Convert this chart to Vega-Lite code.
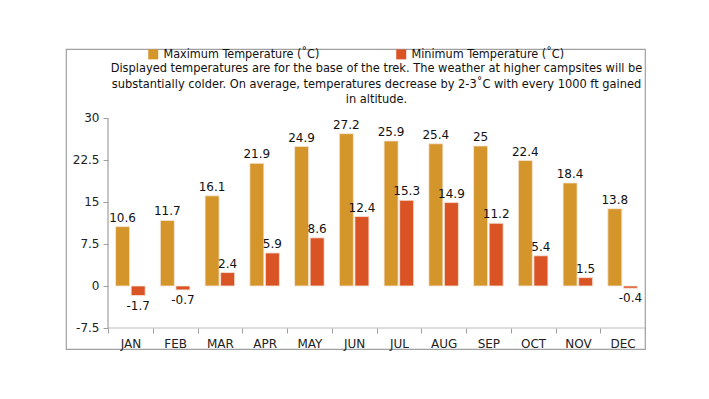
{
  "$schema": "https://vega.github.io/schema/vega-lite/v6.json",
  "width": 579,
  "height": 300,
  "autosize": {"type": "none"},
  "padding": {"left": 66, "top": 49, "right": 64, "bottom": 50},
  "background": "white",
  "config": {
    "view": {"stroke": "#a0a0a0", "strokeWidth": 1.2},
    "font": "DejaVu Sans"
  },
  "title": {
    "text": [
      "Displayed temperatures are for the base of the trek. The weather at higher campsites will be",
      "substantially colder. On average, temperatures decrease by 2-3˚C with every 1000 ft gained",
      "in altitude."
    ],
    "frame": "group",
    "anchor": "middle",
    "orient": "top",
    "offset": -58,
    "dx": 21,
    "font": "DejaVu Sans Condensed",
    "fontSize": 12.7,
    "fontWeight": "normal",
    "color": "#111111",
    "lineHeight": 15.5
  },
  "data": {
    "values": [
      {"month": "JAN", "type": "Maximum Temperature (˚C)", "temp": 10.6},
      {"month": "JAN", "type": "Minimum Temperature (˚C)", "temp": -1.7},
      {"month": "FEB", "type": "Maximum Temperature (˚C)", "temp": 11.7},
      {"month": "FEB", "type": "Minimum Temperature (˚C)", "temp": -0.7},
      {"month": "MAR", "type": "Maximum Temperature (˚C)", "temp": 16.1},
      {"month": "MAR", "type": "Minimum Temperature (˚C)", "temp": 2.4},
      {"month": "APR", "type": "Maximum Temperature (˚C)", "temp": 21.9},
      {"month": "APR", "type": "Minimum Temperature (˚C)", "temp": 5.9},
      {"month": "MAY", "type": "Maximum Temperature (˚C)", "temp": 24.9},
      {"month": "MAY", "type": "Minimum Temperature (˚C)", "temp": 8.6},
      {"month": "JUN", "type": "Maximum Temperature (˚C)", "temp": 27.2},
      {"month": "JUN", "type": "Minimum Temperature (˚C)", "temp": 12.4},
      {"month": "JUL", "type": "Maximum Temperature (˚C)", "temp": 25.9},
      {"month": "JUL", "type": "Minimum Temperature (˚C)", "temp": 15.3},
      {"month": "AUG", "type": "Maximum Temperature (˚C)", "temp": 25.4},
      {"month": "AUG", "type": "Minimum Temperature (˚C)", "temp": 14.9},
      {"month": "SEP", "type": "Maximum Temperature (˚C)", "temp": 25},
      {"month": "SEP", "type": "Minimum Temperature (˚C)", "temp": 11.2},
      {"month": "OCT", "type": "Maximum Temperature (˚C)", "temp": 22.4},
      {"month": "OCT", "type": "Minimum Temperature (˚C)", "temp": 5.4},
      {"month": "NOV", "type": "Maximum Temperature (˚C)", "temp": 18.4},
      {"month": "NOV", "type": "Minimum Temperature (˚C)", "temp": 1.5},
      {"month": "DEC", "type": "Maximum Temperature (˚C)", "temp": 13.8},
      {"month": "DEC", "type": "Minimum Temperature (˚C)", "temp": -0.4}
    ]
  },
  "encoding": {
    "x": {
      "field": "month",
      "type": "nominal",
      "sort": ["JAN", "FEB", "MAR", "APR", "MAY", "JUN", "JUL", "AUG", "SEP", "OCT", "NOV", "DEC"],
      "scale": {"type": "band", "paddingInner": 0, "paddingOuter": 0.4693, "align": 1},
      "axis": {
        "orient": "bottom",
        "offset": -21,
        "domain": false,
        "tickBand": "extent",
        "tickSize": 5,
        "tickColor": "#a0a0a0",
        "labelAngle": 0,
        "labelFont": "DejaVu Sans",
        "labelFontSize": 12,
        "labelColor": "#222222",
        "labelPadding": 5,
        "title": null
      }
    }
  },
  "layer": [
    {
      "mark": {"type": "bar", "stroke": "#f6e6da", "strokeWidth": 0.8},
      "encoding": {
        "xOffset": {"field": "type", "type": "nominal", "scale": {"paddingInner": 0.1, "paddingOuter": 0.488}},
        "y": {
          "field": "temp",
          "type": "quantitative",
          "scale": {"domain": [-11.25, 42.32], "nice": false, "zero": false},
          "axis": {
            "values": [-7.5, 0, 7.5, 15, 22.5, 30],
            "labelExpr": "'' + datum.value",
            "offset": -42,
            "domain": false,
            "grid": false,
            "tickSize": 5,
            "tickColor": "#a0a0a0",
            "labelFont": "DejaVu Sans",
            "labelFontSize": 12,
            "labelColor": "#222222",
            "labelPadding": 4,
            "title": null
          }
        },
        "color": {
          "field": "type",
          "type": "nominal",
          "scale": {
            "domain": ["Maximum Temperature (˚C)", "Minimum Temperature (˚C)"],
            "range": ["#D4952A", "#DA5325"]
          },
          "legend": {
            "orient": "none",
            "legendX": 81,
            "legendY": -1,
            "direction": "horizontal",
            "title": null,
            "symbolType": "square",
            "symbolSize": 100,
            "symbolStrokeWidth": 0,
            "labelFont": "DejaVu Sans Condensed",
            "labelFontSize": 12.5,
            "labelColor": "#111111",
            "labelOffset": 4,
            "columnPadding": 75,
            "labelLimit": 300
          }
        }
      }
    },
    {
      "transform": [{"filter": "datum.type == 'Maximum Temperature (˚C)' || datum.temp >= 0"}],
      "mark": {"type": "text", "baseline": "alphabetic", "dy": -5, "font": "DejaVu Sans", "fontSize": 12, "color": "#111111"},
      "encoding": {
        "xOffset": {"field": "type", "type": "nominal"},
        "y": {"field": "temp", "type": "quantitative"},
        "text": {"field": "temp", "type": "nominal"}
      }
    },
    {
      "transform": [{"filter": "datum.type == 'Minimum Temperature (˚C)' && datum.temp < 0"}],
      "mark": {"type": "text", "baseline": "top", "dy": 5, "font": "DejaVu Sans", "fontSize": 12, "color": "#111111"},
      "encoding": {
        "xOffset": {"field": "type", "type": "nominal"},
        "y": {"field": "temp", "type": "quantitative"},
        "text": {"field": "temp", "type": "nominal"}
      }
    },
    {
      "transform": [{"filter": "datum.type == 'Maximum Temperature (˚C)'"}],
      "mark": {"type": "tick", "orient": "horizontal", "size": 44.75, "thickness": 1.2, "color": "#a0a0a0"},
      "encoding": {
        "y": {"datum": -7.5, "type": "quantitative"}
      }
    },
    {
      "transform": [{"filter": "datum.month == 'JAN' && datum.type == 'Maximum Temperature (˚C)'"}],
      "mark": {"type": "rule", "color": "#a0a0a0", "strokeWidth": 1.2},
      "encoding": {
        "x": {"field": "month", "type": "nominal", "bandPosition": 0},
        "y": {"datum": -7.5, "type": "quantitative"},
        "y2": {"datum": 30}
      }
    }
  ]
}
